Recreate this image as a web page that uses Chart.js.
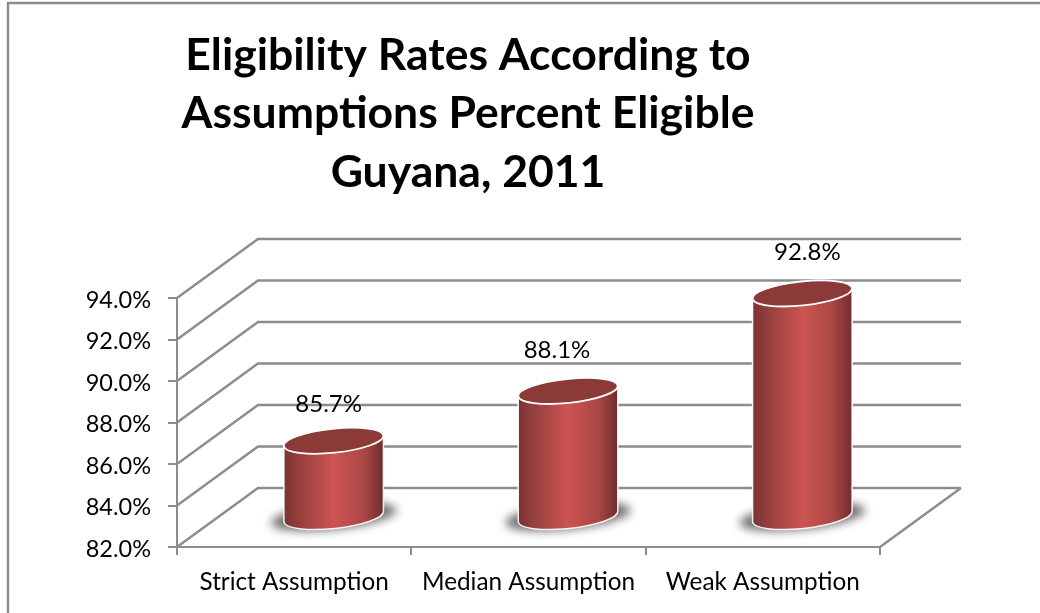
<!DOCTYPE html>
<html>
<head>
<meta charset="utf-8">
<style>
  html, body { margin: 0; padding: 0; background: #fff; }
  canvas { display: block; }
</style>
<script src="https://cdn.jsdelivr.net/npm/chart.js"></script>
</head>
<body>
<canvas id="eligibilityChart" width="1040" height="613"></canvas>
<script>
const categories = ['Strict Assumption', 'Median Assumption', 'Weak Assumption'];
const percentEligible = [85.7, 88.1, 92.8];
const titleLines = ['Eligibility Rates According to', 'Assumptions Percent Eligible', 'Guyana, 2011'];
const axisMin = 82;
const axisMax = 94;
const axisStep = 2;

const FONT = 'Lato, "Open Sans", sans-serif';
const LINE = '#8c8c8c';
const WALL_DX = 81;
const WALL_DY = 59;
const TILT = -6 * Math.PI / 180;

// box walls and floor behind the cylinders
const wallsPlugin = {
  id: 'walls',
  beforeDatasetsDraw(chart) {
    const { ctx, chartArea: area, scales: { y } } = chart;
    ctx.save();
    ctx.strokeStyle = LINE;
    ctx.lineWidth = 2.4;
    // page frame
    ctx.beginPath();
    ctx.moveTo(8, 613);
    ctx.lineTo(8, 3);
    ctx.lineTo(1040, 3);
    ctx.stroke();
    y.ticks.forEach(tick => {
      const py = y.getPixelForValue(tick.value);
      ctx.beginPath();
      ctx.moveTo(area.left, py);
      ctx.lineTo(area.left + WALL_DX, py - WALL_DY);
      ctx.lineTo(area.right + WALL_DX, py - WALL_DY);
      ctx.stroke();
    });
    ctx.beginPath();
    ctx.moveTo(area.right, area.bottom);
    ctx.lineTo(area.right + WALL_DX, area.bottom - WALL_DY);
    ctx.stroke();
    ctx.restore();
  }
};

function tiltedEllipse(ctx, cx, cy, rx, ry, start, end, anti) {
  ctx.ellipse(cx, cy, rx, ry, TILT, start, end, anti);
}

// cylinders stand halfway into the box depth
const cylinderPlugin = {
  id: 'cylinders',
  afterDatasetsDraw(chart) {
    const { ctx } = chart;
    const labelShiftX = [-5, -11, 5];
    const labelLift = [36, 41, 41];
    chart.getDatasetMeta(0).data.forEach((bar, i) => {
      const cx = bar.x + WALL_DX / 2 - 1;
      const topY = bar.y - WALL_DY / 2;
      const baseY = bar.base - WALL_DY / 2;
      const rx = bar.width / 2;
      const ry = 12;
      const dx = rx * Math.cos(TILT);
      const dy = rx * Math.sin(TILT);

      ctx.save();
      ctx.filter = 'blur(5px)';
      ctx.fillStyle = 'rgba(75,75,75,0.8)';
      ctx.beginPath();
      tiltedEllipse(ctx, cx, baseY, rx + 13, ry + 1, 0, Math.PI * 2);
      ctx.fill();
      ctx.restore();

      const body = ctx.createLinearGradient(cx - dx, 0, cx + dx, 0);
      body.addColorStop(0, '#7a3331');
      body.addColorStop(0.12, '#8f3d3b');
      body.addColorStop(0.5, '#cc5452');
      body.addColorStop(0.8, '#ab4745');
      body.addColorStop(1, '#702d2c');

      ctx.save();
      ctx.beginPath();
      ctx.moveTo(cx - dx, topY - dy);
      ctx.lineTo(cx - dx, baseY - dy);
      tiltedEllipse(ctx, cx, baseY, rx, ry, Math.PI, 0, true);
      ctx.lineTo(cx + dx, topY + dy);
      ctx.closePath();
      ctx.fillStyle = body;
      ctx.fill();
      ctx.strokeStyle = 'rgba(255,255,255,0.9)';
      ctx.lineWidth = 1.5;
      ctx.stroke();

      ctx.beginPath();
      tiltedEllipse(ctx, cx, topY, rx, ry, 0, Math.PI * 2);
      ctx.fillStyle = '#8b3a37';
      ctx.fill();
      ctx.strokeStyle = '#fff';
      ctx.lineWidth = 1.8;
      ctx.stroke();
      ctx.restore();

      ctx.save();
      ctx.fillStyle = '#000';
      ctx.font = '24px ' + FONT;
      ctx.textAlign = 'center';
      ctx.textBaseline = 'middle';
      ctx.fillText(percentEligible[i].toFixed(1) + '%', cx + labelShiftX[i], topY - labelLift[i]);
      ctx.restore();
    });
  }
};

new Chart(document.getElementById('eligibilityChart'), {
  type: 'bar',
  data: {
    labels: categories,
    datasets: [{
      data: percentEligible,
      base: axisMin,
      backgroundColor: 'transparent',
      categoryPercentage: 1,
      barPercentage: 0.427
    }]
  },
  options: {
    responsive: false,
    animation: false,
    layout: { padding: { left: 56, right: 160, top: 0, bottom: 0 } },
    plugins: {
      legend: { display: false },
      tooltip: { enabled: false },
      title: {
        display: true,
        text: titleLines,
        color: '#000',
        font: { family: FONT, size: 44.5, weight: 'bold', lineHeight: 1.315 },
        padding: { top: 26, bottom: 96.5 }
      }
    },
    scales: {
      x: {
        grid: { drawOnChartArea: false, color: LINE, lineWidth: 2, tickLength: 8 },
        border: { color: LINE, width: 2 },
        ticks: { color: '#000', font: { family: FONT, size: 24.3 }, padding: 13, maxRotation: 0 },
        afterFit(scale) { scale.height = 66; }
      },
      y: {
        min: axisMin,
        max: axisMax,
        grid: { drawOnChartArea: false, color: LINE, lineWidth: 2, tickLength: 9 },
        border: { color: LINE, width: 2 },
        ticks: {
          stepSize: axisStep,
          color: '#000',
          font: { family: FONT, size: 23.5 },
          padding: 17,
          labelOffset: 2,
          callback: value => value.toFixed(1) + '%'
        },
        afterFit(scale) { scale.width = 121; }
      }
    }
  },
  plugins: [wallsPlugin, cylinderPlugin]
});
</script>
</body>
</html>
